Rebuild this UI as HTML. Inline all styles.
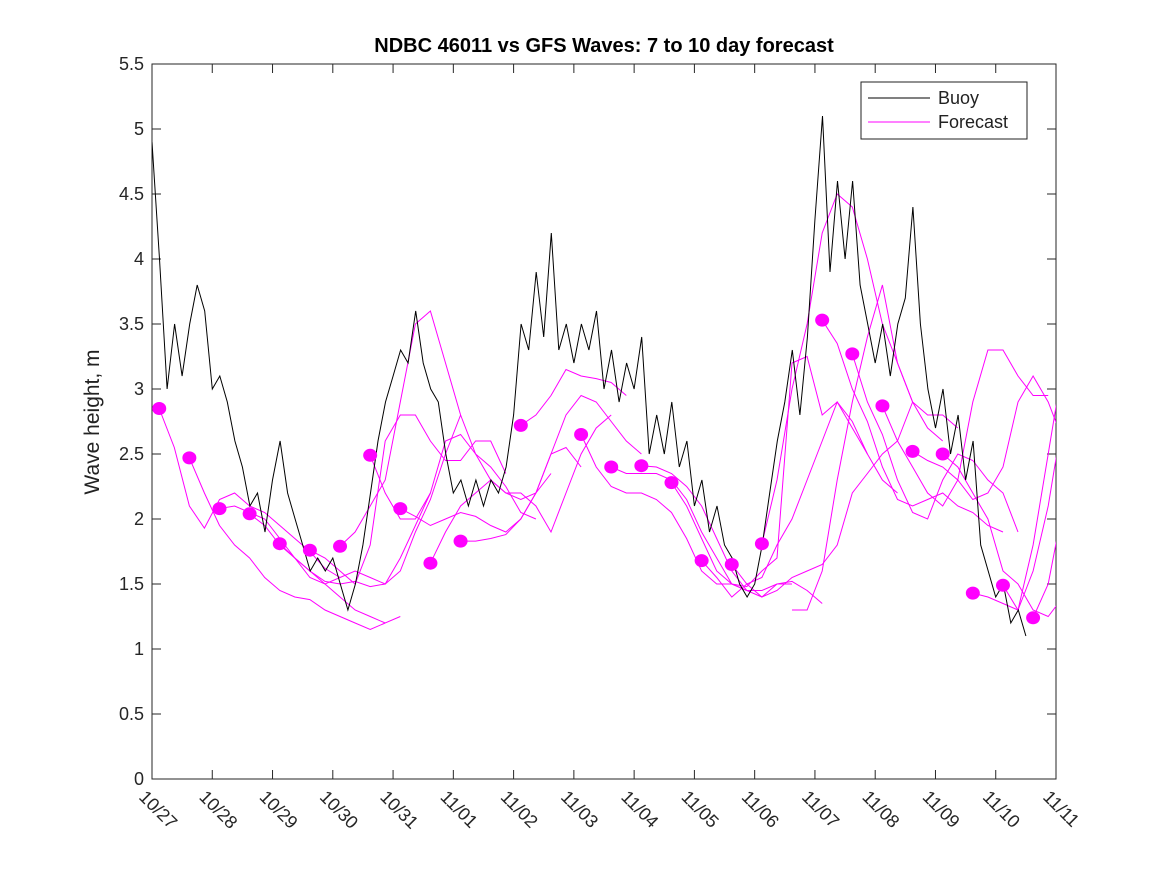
<!DOCTYPE html>
<html><head><meta charset="utf-8"><style>
html,body{margin:0;padding:0;background:#fff;}
svg{display:block;font-family:"Liberation Sans","DejaVu Sans",sans-serif;}
</style></head><body>
<svg id="chart" width="1167" height="875" viewBox="0 0 1167 875" xmlns="http://www.w3.org/2000/svg">
<defs><clipPath id="plotclip"><rect x="152" y="64" width="904" height="715"/></clipPath></defs>
<rect x="0" y="0" width="1167" height="875" fill="#fff"/>
<text x="604" y="52" text-anchor="middle" font-size="20" font-weight="bold" fill="#000">NDBC 46011 vs GFS Waves: 7 to 10 day forecast</text>
<text transform="translate(99,422) rotate(-90)" text-anchor="middle" font-size="21" fill="#222">Wave height, m</text>
<g id="axes"></g>
<g id="series" clip-path="url(#plotclip)"></g>
<g>
<rect x="861" y="82" width="166" height="57" fill="#fff" stroke="#222" stroke-width="1"/>
<line x1="868" y1="98" x2="930" y2="98" stroke="#000" stroke-width="1"/>
<text x="938" y="104" font-size="18" fill="#222">Buoy</text>
<line x1="868" y1="122" x2="930" y2="122" stroke="#ff00ff" stroke-width="1"/>
<text x="938" y="128" font-size="18" fill="#222">Forecast</text>
</g>
</svg>
<script>
const xTickLabels=["10/27","10/28","10/29","10/30","10/31","11/01","11/02","11/03","11/04","11/05","11/06","11/07","11/08","11/09","11/10","11/11"];
const yTickLabels=["0","0.5","1","1.5","2","2.5","3","3.5","4","4.5","5","5.5"];
// buoy wave height every 1/8 day from 10/27 00:00
const buoyStepDays=0.125;
const buoyValues=[4.9,4.0,3.0,3.5,3.1,3.5,3.8,3.6,3.0,3.1,2.9,2.6,2.4,2.1,2.2,1.9,
2.3,2.6,2.2,2.0,1.8,1.6,1.7,1.6,1.7,1.5,1.3,1.5,1.8,2.2,2.6,2.9,
3.1,3.3,3.2,3.6,3.2,3.0,2.9,2.5,2.2,2.3,2.1,2.3,2.1,2.3,2.2,2.4,
2.8,3.5,3.3,3.9,3.4,4.2,3.3,3.5,3.2,3.5,3.3,3.6,3.0,3.3,2.9,3.2,
3.0,3.4,2.5,2.8,2.5,2.9,2.4,2.6,2.1,2.3,1.9,2.1,1.8,1.7,1.5,1.4,
1.5,1.8,2.2,2.6,2.9,3.3,2.8,3.4,4.3,5.1,3.9,4.6,4.0,4.6,3.8,3.5,
3.2,3.5,3.1,3.5,3.7,4.4,3.5,3.0,2.7,3.0,2.5,2.8,2.3,2.6,1.8,1.6,
1.4,1.5,1.2,1.3,1.1];
// forecast runs: start day and values every 1/4 day
const fcStep=0.25;
const fcStarts=[0.12,0.62,1.12,1.62,2.12,2.62,3.12,3.62,4.12,4.62,5.12,6.12,7.12,7.62,8.12,8.62,9.12,9.62,10.12,10.62,11.12,11.62,12.12,12.62,13.12,13.62,14.12,14.62];
const fcValues=[
[2.85,2.55,2.1,1.93,2.15,2.2,2.1,2.05,1.95,1.85,1.75,1.62,1.55],
[2.47,2.2,1.95,1.8,1.7,1.55,1.45,1.4,1.38,1.3,1.25,1.2,1.15,1.2],
[2.08,2.1,2.05,2.0,1.85,1.7,1.6,1.5,1.4,1.3,1.25,1.2,1.25],
[2.04,1.95,1.8,1.7,1.6,1.52,1.5,1.52,1.48,1.5,1.7,1.95,2.2],
[1.81,1.7,1.55,1.5,1.55,1.6,1.55,1.5,1.6,1.9,2.15,2.5,2.8],
[1.76,1.7,1.6,1.5,1.8,2.6,2.8,2.8,2.6,2.45,2.45,2.6,2.6,2.35],
[1.79,1.9,2.1,2.3,2.9,3.5,3.6,3.2,2.8,2.5,2.4,2.25,2.05,2.0],
[2.49,2.2,2.0,2.0,2.2,2.6,2.65,2.5,2.3,2.2,2.15,2.2,2.35],
[2.08,2.02,1.95,2.0,2.05,2.02,1.95,1.9,2.0,2.2,2.5,2.55,2.4],
[1.66,1.9,2.1,2.2,2.3,2.2,2.2,2.1,1.9,2.2,2.5,2.7,2.8],
[1.83,1.83,1.85,1.88,2.0,2.2,2.5,2.8,2.95,2.9,2.75,2.6,2.5],
[2.72,2.8,2.95,3.15,3.1,3.08,3.05,2.95],
[2.65,2.4,2.25,2.2,2.2,2.15,2.05,1.85,1.6,1.5,1.5,1.45],
[2.40,2.35,2.35,2.35,2.3,2.15,1.9,1.7,1.5,1.45,1.4,1.5,1.5],
[2.41,2.4,2.35,2.25,2.1,1.85,1.6,1.45,1.45,1.5,1.52,1.45,1.35],
[2.28,2.1,1.85,1.6,1.5,1.48,1.6,1.7,3.2,3.25,2.8,2.9,2.75,2.5],
[1.68,1.55,1.4,1.5,1.55,1.8,2.0,2.3,2.6,2.9,2.7,2.5,2.3,2.2],
[1.65,1.5,1.4,1.45,1.55,1.6,1.65,1.8,2.2,2.35,2.5,2.6,2.9],
[1.81,2.3,3.0,3.5,4.2,4.5,4.4,4.0,3.5,3.2,2.9,2.7,2.6],
[1.3,1.3,1.6,2.3,2.9,3.4,3.8,3.2,2.9,2.8,2.8,2.7],
[3.53,3.35,3.0,2.75,2.4,2.15,2.1,2.15,2.2,2.1,2.05,1.95,1.9],
[3.27,2.9,2.65,2.3,2.05,2.0,2.3,2.5,2.45,2.3,2.2,1.9],
[2.87,2.6,2.4,2.2,2.1,2.3,2.9,3.3,3.3,3.1,2.95,2.95],
[2.52,2.45,2.4,2.3,2.15,2.2,2.4,2.9,3.1,2.9,2.6],
[2.5,2.4,2.2,2.0,1.6,1.5,1.3,1.25,1.4,2.9,3.15,3.0,2.85],
[1.43,1.4,1.35,1.3,1.8,2.5,3.2,3.1,2.7],
[1.49,1.3,1.6,2.1,2.8,3.5],
[1.24,1.5,2.1,2.6]];
const dotStarts=[0.12,0.62,1.12,1.62,2.12,2.62,3.12,3.62,4.12,4.62,5.12,6.12,7.12,7.62,8.12,8.62,9.12,9.62,10.12,11.12,11.62,12.12,12.62,13.12,13.62,14.12,14.62];
const dotValues=[2.85,2.47,2.08,2.04,1.81,1.76,1.79,2.49,2.08,1.66,1.83,2.72,2.65,2.40,2.41,2.28,1.68,1.65,1.81,3.53,3.27,2.87,2.52,2.50,1.43,1.49,1.24];

const L=152,R=1056,T=64,B=779,NS="http://www.w3.org/2000/svg";
const xs=d=>L+(R-L)*d/15;
const ys=v=>B-(B-T)*v/5.5;
function mk(tag,attrs,parent){const e=document.createElementNS(NS,tag);for(const k in attrs)e.setAttribute(k,attrs[k]);parent.appendChild(e);return e;}
const axes=document.getElementById('axes'),ser=document.getElementById('series');
const frame=mk('rect',{x:L,y:T,width:R-L,height:B-T,fill:'none',stroke:'#262626','stroke-width':1},axes);


yTickLabels.forEach((t,i)=>{const y=ys(i*0.5);
mk('line',{x1:L,y1:y,x2:L+9,y2:y,stroke:'#262626'},axes);
mk('line',{x1:R,y1:y,x2:R-9,y2:y,stroke:'#262626'},axes);
const tx=mk('text',{x:L-8,y:y+6,'text-anchor':'end','font-size':18,fill:'#262626'},axes);tx.textContent=t;

});
xTickLabels.forEach((t,i)=>{const x=xs(i);
mk('line',{x1:x,y1:B,x2:x,y2:B-9,stroke:'#262626'},axes);
mk('line',{x1:x,y1:T,x2:x,y2:T+9,stroke:'#262626'},axes);
const tx=mk('text',{transform:`translate(${x-14},${B+19}) rotate(45)`,'font-size':18,fill:'#262626'},axes);tx.textContent=t;

});
// forecasts
fcValues.forEach((arr,k)=>{const pts=arr.map((v,j)=>xs(fcStarts[k]+j*fcStep).toFixed(1)+','+ys(v).toFixed(1)).join(' ');
const p=mk('polyline',{points:pts,fill:'none',stroke:'#ff00ff','stroke-width':1},ser);

});
// buoy
const bp=buoyValues.map((v,i)=>xs(i*buoyStepDays).toFixed(1)+','+ys(v).toFixed(1)).join(' ');
const bl=mk('polyline',{points:bp,fill:'none',stroke:'#000','stroke-width':1},ser);


dotStarts.forEach((d,i)=>{const c=mk('ellipse',{cx:xs(d),cy:ys(dotValues[i]),rx:7,ry:6.5,fill:'#ff00ff'},ser);

});
</script>
</body></html>
